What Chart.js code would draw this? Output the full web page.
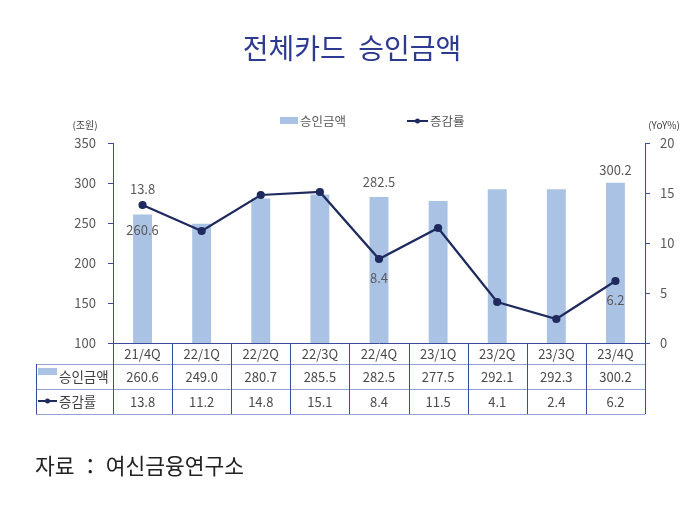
<!DOCTYPE html>
<html>
<head>
<meta charset="utf-8">
<script src="https://cdn.jsdelivr.net/npm/chart.js@4"></script>
<style>
  body { margin: 0; background: #fff; }
  #wrap { position: relative; width: 700px; height: 508px; overflow: hidden; }
  #title { position: absolute; left: 0; width: 704px; top: 27px; text-align: center;
           font-family: "Noto Sans CJK KR", sans-serif; font-size: 28px; color: #2d3a91; white-space: pre; }
  #source { position: absolute; left: 35px; top: 449px;
            font-family: "Noto Sans CJK KR", sans-serif; font-size: 21.5px; color: #222; white-space: pre; }
  canvas { position: absolute; left: 0; top: 0; }
</style>
</head>
<body>
<div id="wrap">
  <canvas id="cardChart" width="700" height="508"></canvas>
  <div id="title">전체카드  승인금액</div>
  <div id="source">자료 ： 여신금융연구소</div>
</div>
<script>
// Chart data
const quarters = ['21/4Q', '22/1Q', '22/2Q', '22/3Q', '22/4Q', '23/1Q', '23/2Q', '23/3Q', '23/4Q'];
const approvalAmount = [260.6, 249.0, 280.7, 285.5, 282.5, 277.5, 292.1, 292.3, 300.2];
const growthRate = [13.8, 11.2, 14.8, 15.1, 8.4, 11.5, 4.1, 2.4, 6.2];
const amountLabel = '승인금액';
const growthLabel = '증감률';
const leftTicks = [100, 150, 200, 250, 300, 350];
const rightTicks = [0, 5, 10, 15, 20];

// which points get a label on the chart itself
const pointLabels = [
    { ds: 0, i: 0, dy: 16 },
    { ds: 1, i: 0, dy: -16 },
    { ds: 0, i: 4, dy: -15 },
    { ds: 1, i: 4, dy: 19 },
    { ds: 0, i: 8, dy: -13 },
    { ds: 1, i: 8, dy: 19 }
];

const FONT = '"Noto Sans CJK KR", sans-serif';
const BAR_COLOR = '#aac3e4';
const LINE_COLOR = '#1f2a5e';
const AXIS_COLOR = '#3c4c9c';
const TEXT_COLOR = '#595959';

// Labels, legend and table drawn on the canvas
const extrasPlugin = {
    id: 'extras',
    afterDatasetsDraw(chart) {
        const ctx = chart.ctx;
        ctx.save();
        ctx.font = '13px ' + FONT;
        ctx.fillStyle = TEXT_COLOR;
        ctx.textAlign = 'center';
        ctx.textBaseline = 'middle';
        pointLabels.forEach(p => {
            const el = chart.getDatasetMeta(p.ds).data[p.i];
            const val = chart.data.datasets[p.ds].data[p.i];
            ctx.fillText(val.toFixed(1), el.x, el.y + p.dy);
        });
        ctx.restore();
    },
    afterDraw(chart) {
        const ctx = chart.ctx;
        const area = chart.chartArea;
        const xs = chart.scales.x;
        const cw = (area.right - area.left) / quarters.length;
        ctx.save();

        // axis units
        ctx.font = '10px ' + FONT;
        ctx.fillStyle = '#404040';
        ctx.textAlign = 'center';
        ctx.textBaseline = 'middle';
        ctx.fillText('(조원)', 85, 125);
        ctx.fillText('(YoY%)', 664, 125);

        // legend
        ctx.font = '12.5px ' + FONT;
        ctx.textAlign = 'left';
        ctx.fillStyle = BAR_COLOR;
        ctx.fillRect(280, 117, 18, 7);
        ctx.fillStyle = TEXT_COLOR;
        ctx.fillText(amountLabel, 300, 121);
        ctx.strokeStyle = LINE_COLOR;
        ctx.lineWidth = 2;
        ctx.beginPath();
        ctx.moveTo(407, 121);
        ctx.lineTo(428, 121);
        ctx.stroke();
        ctx.fillStyle = LINE_COLOR;
        ctx.beginPath();
        ctx.arc(417.5, 121, 2.5, 0, Math.PI * 2);
        ctx.fill();
        ctx.fillStyle = TEXT_COLOR;
        ctx.fillText(growthLabel, 430, 121);

        // data table
        const rowY = [area.bottom, 364, 389, 414];
        const tableLeft = 36;
        ctx.lineWidth = 1;
        ctx.strokeStyle = '#93a3d6';
        for (let r = 1; r < rowY.length; r++) {
            ctx.beginPath();
            ctx.moveTo(tableLeft, rowY[r] + 0.5);
            ctx.lineTo(area.right, rowY[r] + 0.5);
            ctx.stroke();
        }
        ctx.strokeStyle = AXIS_COLOR;
        for (let c = 0; c <= quarters.length; c++) {
            const x = Math.round(area.left + c * cw) + 0.5;
            ctx.beginPath();
            ctx.moveTo(x, area.bottom);
            ctx.lineTo(x, rowY[3]);
            ctx.stroke();
        }
        ctx.beginPath();
        ctx.moveTo(tableLeft + 0.5, rowY[1]);
        ctx.lineTo(tableLeft + 0.5, rowY[3]);
        ctx.stroke();

        ctx.font = '13px ' + FONT;
        ctx.fillStyle = '#4a4a4a';
        ctx.textAlign = 'center';
        quarters.forEach((q, i) => {
            const x = xs.getPixelForValue(i);
            ctx.fillText(q, x, 354);
            ctx.fillText(approvalAmount[i].toFixed(1), x, 377);
            ctx.fillText(growthRate[i].toFixed(1), x, 402);
        });

        // row headers
        ctx.fillStyle = BAR_COLOR;
        ctx.fillRect(38, 368, 19, 7);
        ctx.strokeStyle = LINE_COLOR;
        ctx.lineWidth = 2;
        ctx.beginPath();
        ctx.moveTo(38, 401);
        ctx.lineTo(57, 401);
        ctx.stroke();
        ctx.fillStyle = LINE_COLOR;
        ctx.beginPath();
        ctx.arc(47.5, 401, 2.5, 0, Math.PI * 2);
        ctx.fill();
        ctx.font = '13.5px ' + FONT;
        ctx.fillStyle = '#404040';
        ctx.textAlign = 'left';
        ctx.fillText(amountLabel, 59, 377);
        ctx.fillText(growthLabel, 59, 402);
        ctx.restore();
    }
};

const ctx = document.getElementById('cardChart').getContext('2d');
new Chart(ctx, {
    type: 'bar',
    data: {
        labels: quarters,
        datasets: [
            {
                type: 'bar',
                label: amountLabel,
                data: approvalAmount,
                backgroundColor: BAR_COLOR,
                yAxisID: 'y',
                barPercentage: 0.32,
                categoryPercentage: 1,
                order: 2
            },
            {
                type: 'line',
                label: growthLabel,
                data: growthRate,
                borderColor: LINE_COLOR,
                backgroundColor: LINE_COLOR,
                borderWidth: 2.2,
                pointRadius: 3,
                yAxisID: 'y1',
                order: 1
            }
        ]
    },
    options: {
        responsive: false,
        animation: false,
        layout: { padding: { top: 143, left: 0, right: 0, bottom: 0 } },
        plugins: {
            legend: { display: false },
            tooltip: { enabled: false }
        },
        scales: {
            x: {
                grid: { display: false },
                ticks: { display: false },
                border: { color: AXIS_COLOR, width: 1 },
                afterFit(scale) { scale.height = 165; }
            },
            y: {
                position: 'left',
                min: leftTicks[0],
                max: leftTicks[leftTicks.length - 1],
                afterBuildTicks(scale) { scale.ticks = leftTicks.map(v => ({ value: v })); },
                grid: { drawOnChartArea: false, tickLength: 5, color: AXIS_COLOR },
                border: { color: AXIS_COLOR, width: 1 },
                ticks: { color: TEXT_COLOR, font: { family: FONT, size: 13 }, padding: 12 },
                afterFit(scale) { scale.width = 113; }
            },
            y1: {
                position: 'right',
                min: rightTicks[0],
                max: rightTicks[rightTicks.length - 1],
                afterBuildTicks(scale) { scale.ticks = rightTicks.map(v => ({ value: v })); },
                grid: { drawOnChartArea: false, tickLength: 5, color: AXIS_COLOR },
                border: { color: AXIS_COLOR, width: 1 },
                ticks: { color: TEXT_COLOR, font: { family: FONT, size: 13 }, padding: 10 },
                afterFit(scale) { scale.width = 55; }
            }
        }
    },
    plugins: [extrasPlugin]
});
</script>
</body>
</html>
